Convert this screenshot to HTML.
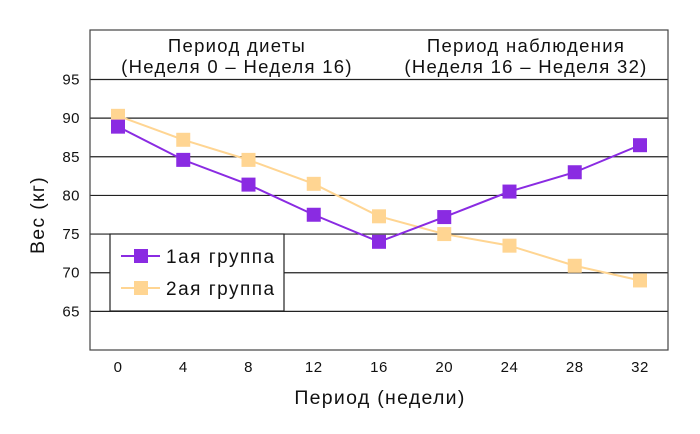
<!DOCTYPE html>
<html><head><meta charset="utf-8"><style>
body{margin:0;background:#fff}
svg text{font-family:"Liberation Sans",sans-serif;fill:#111}
</style></head><body>
<svg width="700" height="429">
<g id="grid"></g>
<g id="series"></g>
<g id="axes"></g>
</svg>
<script>
const weeks=[0,4,8,12,16,20,24,28,32];
const group1=[88.9,84.6,81.4,77.5,74.0,77.2,80.5,83.0,86.5];
const group2=[90.3,87.2,84.6,81.5,77.3,75.0,73.5,70.9,69.0];
const yTicks=[65,70,75,80,85,90,95];
const ns="http://www.w3.org/2000/svg";
const L=90,R=668,T=30,B=350;
const x=v=>118+(v-0)*(640-118)/32;
const y=v=>B-(v-60)*(B-79.5)/35;
function mk(tag,attrs,parent,txt){const e=document.createElementNS(ns,tag);for(const k in attrs)e.setAttribute(k,attrs[k]);if(txt!==undefined)e.textContent=txt;parent.appendChild(e);return e;}
const grid=document.getElementById('grid'),ser=document.getElementById('series'),ax=document.getElementById('axes');
yTicks.forEach(t=>{
 const l=mk('line',{x1:L,x2:R,y1:y(t),y2:y(t),stroke:'#222','stroke-width':1.2},grid);
 
 
 const tx=mk('text',{x:80,y:y(t)+5,'text-anchor':'end','font-size':15,'letter-spacing':0.5},ax,t);
 
 
});
const fr=mk('rect',{x:L,y:T,width:R-L,height:B-T,fill:'none',stroke:'#444','stroke-width':1.2},ax);


weeks.forEach(w=>{
 const tx=mk('text',{x:x(w),y:372,'text-anchor':'middle','font-size':15,'letter-spacing':0.5},ax,w);
 
 
});
function draw(vals,color,name){
 const pl=mk('polyline',{points:vals.map((v,i)=>x(weeks[i])+','+y(v)).join(' '),fill:'none',stroke:color,'stroke-width':2},ser);
 
 
 vals.forEach((v,i)=>{
  const r=mk('rect',{x:x(weeks[i])-7,y:y(v)-7,width:14,height:14,fill:color},ser);
  
  
 });
}
draw(group2,'#ffd592','group2');
draw(group1,'#8a2be2','group1');
const lg=mk('g',{},ax);


mk('rect',{x:110,y:234,width:174,height:77,fill:'#fff',stroke:'#222','stroke-width':1.2},lg);
[['#8a2be2','1ая группа',256],['#ffd592','2ая группа',288]].forEach(([c,t,yy])=>{
 const g=mk('g',{},lg);
 
 
 mk('line',{x1:121,x2:160,y1:yy,y2:yy,stroke:c,'stroke-width':2},g);
 mk('rect',{x:134,y:yy-7,width:14,height:14,fill:c},g);
 mk('text',{x:166,y:yy+7,'font-size':19,'letter-spacing':1.5},g,t);
});
[['Период диеты',237,52],['(Неделя 0 – Неделя 16)',237,73],['Период наблюдения',526,52],['(Неделя 16 – Неделя 32)',526,73]].forEach(([t,xx,yy])=>{
 const tx=mk('text',{x:xx,y:yy,'text-anchor':'middle','font-size':18.5,'letter-spacing':1.3},ax,t);
 
 
});
const xt=mk('text',{x:380,y:404,'text-anchor':'middle','font-size':19.5,'letter-spacing':1.3},ax,'Период (недели)');


const yt=mk('text',{x:44,y:215,'text-anchor':'middle','font-size':19.5,'letter-spacing':1.3,transform:'rotate(-90 44 215)'},ax,'Вес (кг)');


</script>
</body></html>
